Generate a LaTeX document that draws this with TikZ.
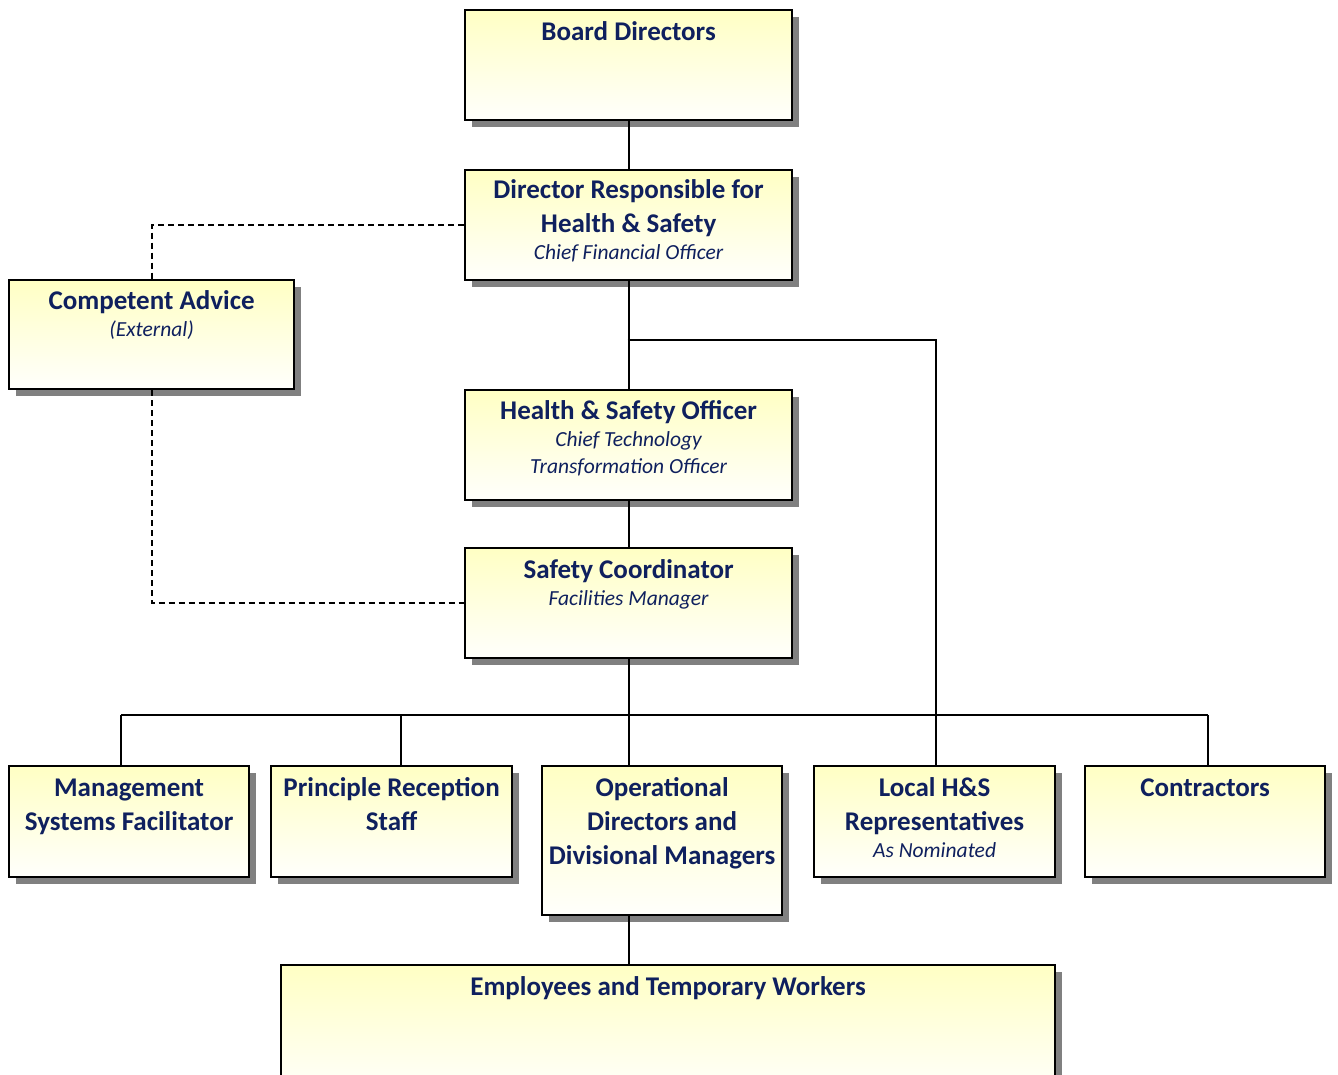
\documentclass[tikz,border=0pt]{standalone}
\usepackage{fontspec}
\setmainfont{Carlito}
\usetikzlibrary{shadows}
\definecolor{navy}{RGB}{15,32,94}
\definecolor{boxtop}{RGB}{255,255,196}
\definecolor{boxbot}{RGB}{255,255,252}
\definecolor{shadowgray}{RGB}{128,128,128}
\newcommand\orgtitle{\fontsize{27}{34}\selectfont\bfseries}
\newcommand\orgsub{\fontsize{21.5}{27}\selectfont\mdseries\itshape}
\newcommand\orgstack[1]{\begin{tabular}[t]{@{}c@{}}#1\end{tabular}}
\tikzset{
  orgbox/.style={draw=black, line width=2.2pt, rectangle, anchor=north west,
    top color=boxtop, bottom color=boxbot, inner sep=0pt,
    drop shadow={shadow xshift=7pt, shadow yshift=-7pt, fill=shadowgray, opacity=1}},
  lbl/.style={anchor=base, inner sep=0pt, text=navy, font=\orgtitle},
  link/.style={line width=1.8pt, draw=black},
  advice/.style={link, dash pattern=on 6pt off 4pt}
}
\begin{document}
\begin{tikzpicture}[x=1pt, y=-1pt]
\clip (0,0) rectangle (1338,1074);
\fill[white] (0,0) rectangle (1338,1074);

% junction points of the reporting lines
\coordinate (branch) at (627.5,340);
\coordinate (busL) at (121,715);
\coordinate (busP) at (401,715);
\coordinate (busR) at (1208,715);
\coordinate (localIn) at (936,765);

% boxes
\node[orgbox, minimum width=327pt, minimum height=110pt] (board) at (464,9) {};
\node[orgbox, minimum width=327pt, minimum height=110pt] (dir) at (464,169) {};
\node[orgbox, minimum width=285pt, minimum height=109pt] (adv) at (8,279) {};
\node[orgbox, minimum width=327pt, minimum height=110pt] (hso) at (464,389) {};
\node[orgbox, minimum width=327pt, minimum height=110pt] (sc) at (464,547) {};
\node[orgbox, minimum width=240pt, minimum height=111pt] (mgmt) at (8,765) {};
\node[orgbox, minimum width=241pt, minimum height=111pt] (prin) at (270,765) {};
\node[orgbox, minimum width=240pt, minimum height=149pt] (op) at (541,765) {};
\node[orgbox, minimum width=241pt, minimum height=111pt] (local) at (813,765) {};
\node[orgbox, minimum width=240pt, minimum height=111pt] (con) at (1084,765) {};
\node[orgbox, minimum width=774pt, minimum height=130pt] (emp) at (280,964) {};

% texts
\node[lbl] (boardT) at ([yshift=-31pt]board.north) {\orgstack{Board Directors}};
\node[lbl] (dirT) at ([yshift=-29pt]dir.north) {\orgstack{Director Responsible for\\ Health \& Safety\\[-6.5pt] \orgsub Chief Financial Officer}};
\node[lbl] (advT) at ([yshift=-30pt]adv.north) {\orgstack{Competent Advice\\[-6.5pt] \orgsub (External)}};
\node[lbl] (hsoT) at ([yshift=-30pt]hso.north) {\orgstack{Health \& Safety Officer\\[-6.5pt] \orgsub Chief Technology\\[-7pt] \orgsub Transformation Officer}};
\node[lbl] (scT) at ([yshift=-31pt]sc.north) {\orgstack{Safety Coordinator\\[-6.5pt] \orgsub Facilities Manager}};
\node[lbl] (mgmtT) at ([yshift=-31pt]mgmt.north) {\orgstack{Management\\ Systems Facilitator}};
\node[lbl] (prinT) at ([yshift=-31pt]prin.north) {\orgstack{Principle Reception\\ Staff}};
\node[lbl] (opT) at ([yshift=-31pt]op.north) {\orgstack{Operational\\ Directors and\\ Divisional Managers}};
\node[lbl] (localT) at ([yshift=-31pt]local.north) {\orgstack{Local H\&S\\ Representatives\\[-7pt] \orgsub As Nominated}};
\node[lbl] (conT) at ([yshift=-31pt]con.north) {\orgstack{Contractors}};
\node[lbl] (empT) at ([yshift=-31pt]emp.north) {\orgstack{Employees and Temporary Workers}};

% reporting lines
\draw[link] (board.south) -- (dir.north);
\draw[link] (dir.south) -- (hso.north);
\draw[link] (branch) -| (localIn);
\draw[link] (hso.south) -- (sc.north);
\draw[link] (sc.south) -- (sc.south |- op.north);
\draw[link] (busL) -- (busR);
\draw[link] (busL) -- (busL |- mgmt.north);
\draw[link] (busP) -- (busP |- prin.north);
\draw[link] (busR) -- (busR |- con.north);
\draw[link] (sc.south |- op.south) -- (sc.south |- emp.north);

% advisory (dashed) lines
\draw[advice] (dir.west) -| (adv.north);
\draw[advice] (adv.south) |- (sc.west);
\end{tikzpicture}
\end{document}
